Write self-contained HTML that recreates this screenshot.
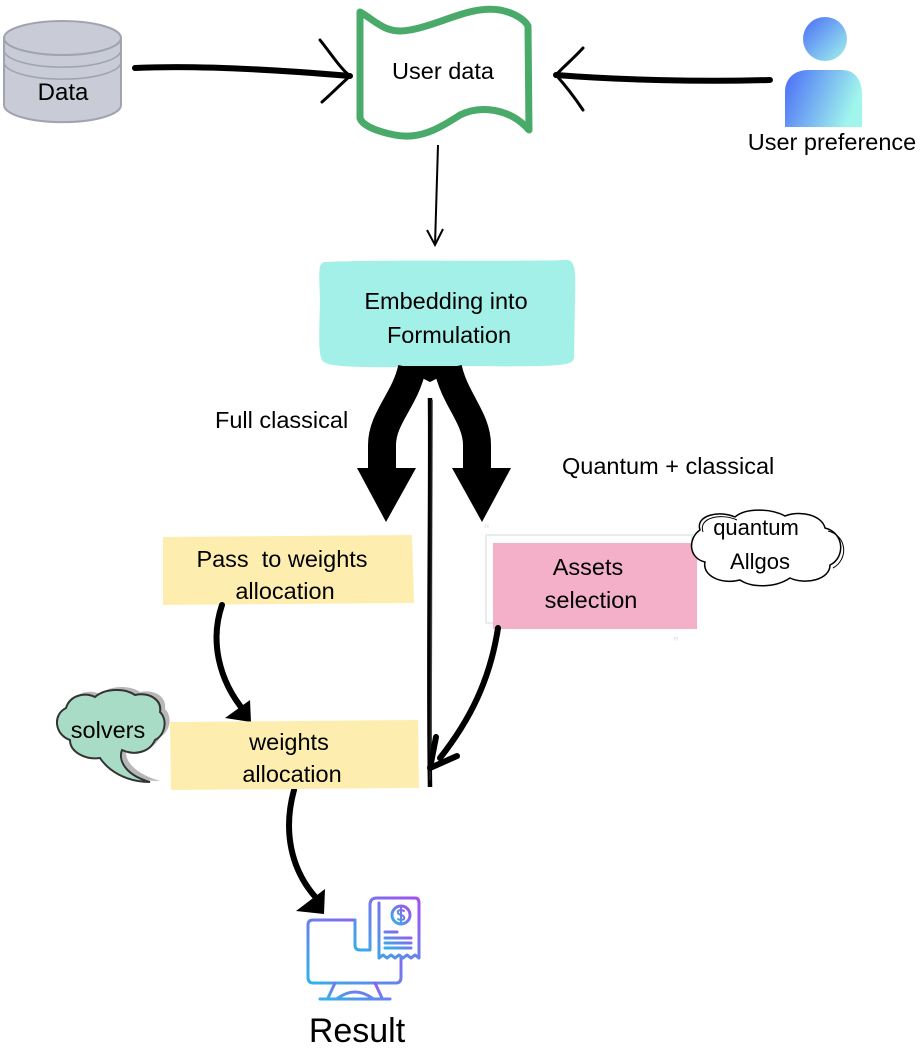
<!DOCTYPE html>
<html><head><meta charset="utf-8"><style>
html,body{margin:0;padding:0;background:#fff;}
svg{display:block;font-family:"Liberation Sans",sans-serif;}
</style></head><body>
<svg width="920" height="1050" viewBox="0 0 920 1050" xmlns="http://www.w3.org/2000/svg">
<defs>
<linearGradient id="pg" x1="0" y1="0" x2="1" y2="1"><stop offset="0" stop-color="#4a6cf7"/><stop offset="1" stop-color="#a0f5ec"/></linearGradient>
<linearGradient id="pb" x1="0" y1="0" x2="1" y2="0.3"><stop offset="0" stop-color="#4a6cf7"/><stop offset="1" stop-color="#a0f5ec"/></linearGradient>
<linearGradient id="ig" x1="0" y1="1" x2="1" y2="0"><stop offset="0" stop-color="#2fb4e8"/><stop offset="1" stop-color="#a64cf0"/></linearGradient>
</defs>
<!-- Data cylinder -->
<path d="M4,38 L4,105 A58,17 0 0 0 121,105 L121,38 Z" fill="#c9ccd6" stroke="#a0a4ae" stroke-width="2"/>
<ellipse cx="62.5" cy="38" rx="58.5" ry="17" fill="#c9ccd6" stroke="#a0a4ae" stroke-width="2"/>
<path d="M4,50 A58,17 0 0 0 121,50 M4,62 A58,17 0 0 0 121,62" fill="none" stroke="#a0a4ae" stroke-width="1.5"/>
<text x="63" y="100" font-size="24" text-anchor="middle">Data</text>
<!-- arrows to user data -->
<path d="M135,68 C200,65 280,70 350,76" stroke="#000" stroke-width="6" fill="none" stroke-linecap="round"/>
<path d="M320,40 C332,55 340,68 350,76 C340,85 330,95 322,102" stroke="#000" stroke-width="3" fill="none" stroke-linecap="round"/>
<path d="M770,80 C700,82 620,80 556,75" stroke="#000" stroke-width="6" fill="none" stroke-linecap="round"/>
<path d="M583,48 C572,60 562,68 556,75 C565,85 575,98 583,110" stroke="#000" stroke-width="3" fill="none" stroke-linecap="round"/>
<!-- User data wave box -->
<path d="M360,12 C375,20 385,35 410,30 C440,25 470,5 500,10 C515,13 525,20 528,26 L529,130 C510,108 480,105 460,115 C440,128 420,140 395,135 C375,131 362,125 360,118 Z" fill="#fff" stroke="#4aaa6a" stroke-width="7" stroke-linejoin="round"/>
<text x="443" y="79" font-size="23.5" text-anchor="middle">User data</text>
<!-- person -->
<ellipse cx="825" cy="39" rx="22" ry="22" fill="url(#pg)"/>
<path d="M785,127 L785,92 C785,78 795,70 808,70 L842,70 C855,70 862,80 862,95 L862,127 Z" fill="url(#pb)"/>
<text x="832" y="150" font-size="23.5" text-anchor="middle">User preference</text>
<!-- down thin arrow -->
<path d="M438,145 C437,180 436,215 435,245" stroke="#000" stroke-width="2" fill="none"/>
<path d="M427,230 L435,245 L443,229" stroke="#000" stroke-width="2" fill="none"/>
<!-- embedding box -->
<path d="M325,262 C400,259 500,262 568,260 C575,262 576,270 575,300 L574,358 C572,366 565,367 450,366 C380,368 330,368 324,362 C318,358 319,340 320,300 C319,270 318,263 325,262 Z" fill="#a3f0e8"/>
<text x="446" y="309" font-size="23.5" text-anchor="middle">Embedding into</text>
<text x="449" y="343" font-size="23.5" text-anchor="middle">Formulation</text>
<!-- split arrows -->
<path d="M412,368 C405,400 382,418 382,445 L382,470 M448,368 C455,400 477,418 477,445 L477,470" stroke="#000" stroke-width="28" fill="none"/>
<polygon points="398,366 462,366 430,382" fill="#000"/>
<polygon points="357,468 416,468 386,522" fill="#000"/>
<polygon points="452,468 511,468 482,522" fill="#000"/>
<!-- vertical sketchy line -->
<path d="M430,398 C431,500 428,650 430,787" stroke="#000" stroke-width="4.5" fill="none"/>
<path d="M432,400 C431,520 432,660 430,780" stroke="#333" stroke-width="2" fill="none" opacity="0.6"/>
<text x="215" y="428" font-size="23.5">Full classical</text>
<text x="562" y="474" font-size="23.5">Quantum + classical</text>
<!-- pass to weights -->
<path d="M163,537 L412,535 L414,603 L163,605 Z" fill="#fdeeb0"/>
<text x="282" y="567" font-size="23.5" text-anchor="middle" xml:space="preserve">Pass  to weights</text>
<text x="285" y="599" font-size="23.5" text-anchor="middle">allocation</text>
<!-- assets -->
<rect x="486" y="535" width="206" height="88" fill="none" stroke="#e8ecec" stroke-width="2"/>
<rect x="493" y="543" width="204" height="86" fill="#f3b0c8"/>
<text x="588" y="575" font-size="23.5" text-anchor="middle">Assets</text>
<text x="591" y="608" font-size="23.5" text-anchor="middle">selection</text>
<text x="484" y="535" font-size="16" fill="#dde">“</text>
<text x="673" y="648" font-size="16" fill="#dde">”</text>
<!-- quantum cloud -->
<path d="M700,530 C695,515 720,510 735,517 C745,508 770,508 785,516 C800,510 822,515 825,528 C845,533 845,558 830,565 C830,580 805,585 790,578 C775,588 752,588 740,580 C720,585 702,575 705,562 C688,558 688,538 700,530 Z" fill="#fff" stroke="#000" stroke-width="1.5"/>
<path d="M703,532 C698,517 722,513 737,520 M828,531 C848,536 848,560 833,568" fill="none" stroke="#000" stroke-width="1"/>
<text x="756" y="535" font-size="22" text-anchor="middle">quantum</text>
<text x="760" y="569" font-size="22" text-anchor="middle">Allgos</text>
<!-- curved arrows -->
<path d="M222,605 C210,640 218,680 245,712" stroke="#000" stroke-width="6" fill="none" stroke-linecap="round"/>
<polygon points="250,700 251,722 225,718" fill="#000"/>
<path d="M498,628 C490,680 470,720 440,758" stroke="#000" stroke-width="6" fill="none" stroke-linecap="round"/>
<path d="M436,737 L430,768 L457,756" stroke="#000" stroke-width="6" fill="none" stroke-linecap="round" stroke-linejoin="round"/>
<path d="M294,790 C283,830 290,870 318,900" stroke="#000" stroke-width="6" fill="none" stroke-linecap="round"/>
<polygon points="325,889 324,914 296,911" fill="#000"/>
<!-- weights allocation -->
<path d="M170,722 L418,720 L419,788 L171,790 Z" fill="#fdeeb0"/>
<text x="289" y="750" font-size="23.5" text-anchor="middle">weights</text>
<text x="292" y="782" font-size="23.5" text-anchor="middle">allocation</text>
<!-- solvers cloud -->
<path d="M66,708 C70,695 85,692 95,697 C105,688 125,688 135,695 C150,692 162,700 160,712 C168,720 165,735 155,740 C150,752 135,756 122,750 C118,760 125,775 155,784 C130,784 110,770 100,758 C85,760 70,752 70,740 C55,735 52,715 66,708 Z" fill="#999" opacity="0.7" transform="translate(5,-3)"/>
<path d="M66,708 C70,695 85,692 95,697 C105,688 125,688 135,695 C150,692 162,700 160,712 C168,720 165,735 155,740 C150,752 135,756 122,750 C118,760 125,775 150,782 C125,782 108,770 100,758 C85,760 70,752 70,740 C55,735 52,715 66,708 Z" fill="#a8dcc6" stroke="#333" stroke-width="2"/>
<text x="108" y="738" font-size="23.5" text-anchor="middle">solvers</text>
<!-- result icon -->
<g fill="none" stroke="url(#ig)" stroke-width="3" stroke-linecap="round" stroke-linejoin="round">
<path d="M355,920 L313,920 Q308,920 308,925 L308,977 Q308,983 313,983 L396,983 Q401,983 401,977 L401,958"/>
<path d="M335,983 L328,998 M375,983 L382,998 M320,999 L390,999 M338,998 Q355,986 372,998"/>
<path d="M355,920 L355,945 Q355,950 360,950 L370,950 L370,905 Q370,898 377,898 L415,898 Q419,898 419,903 L419,958 L415,955 L411,958 L407,955 L403,958 L399,955 L395,958 L391,955 L387,958 L383,955 L379,958 L379,903"/>
<circle cx="401" cy="915" r="9"/>
<path d="M404,911 Q401,909 398,911 Q397,914 401,915 Q405,916 404,919 Q401,921 398,919 M401,907 L401,923" stroke-width="2"/>
<path d="M385,932 L397,932 M385,938 L411,938 M385,943 L411,943 M385,948 L411,948"/>
</g>
<text x="357" y="1042" font-size="34" text-anchor="middle">Result</text>
</svg>
</body></html>
